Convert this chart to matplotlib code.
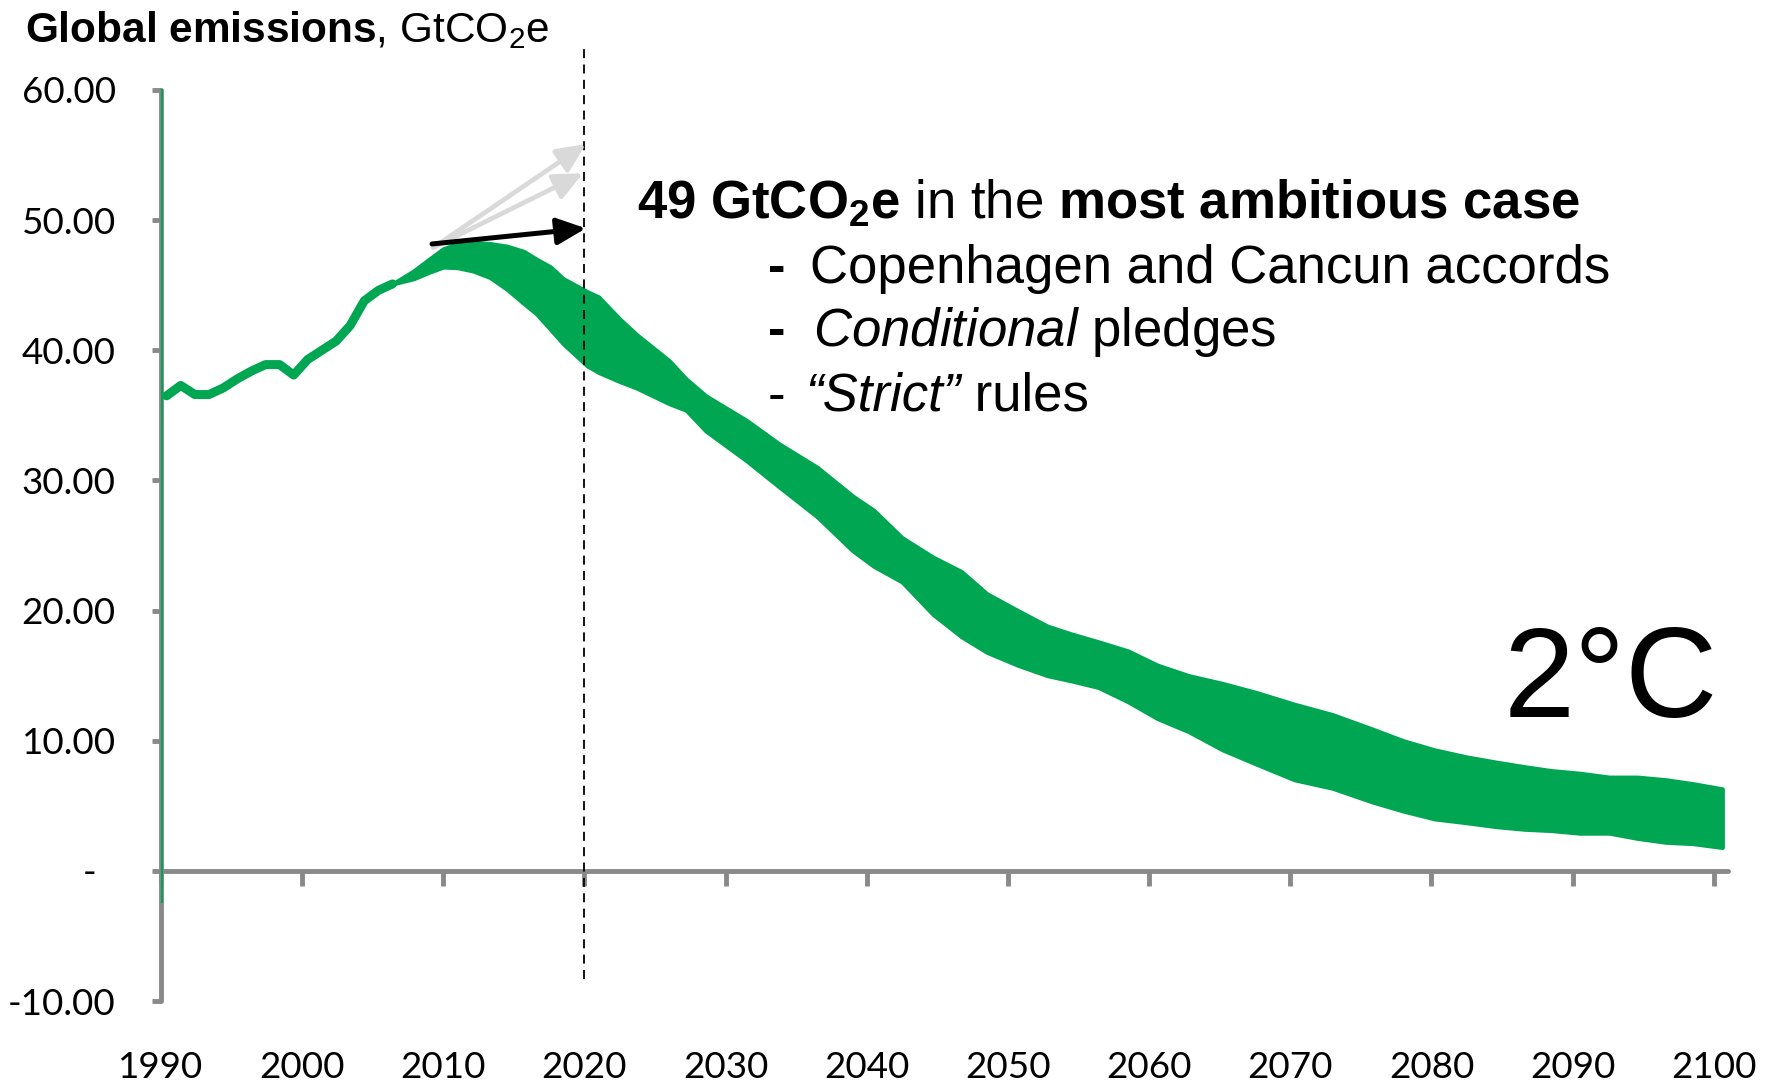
import matplotlib
matplotlib.use('Agg')
import matplotlib.pyplot as plt

# values (GtCO2e)
hist_years = list(range(1990, 2007))
hist_vals = [36.5, 37.3, 36.6, 36.6, 37.1, 37.8, 38.4, 38.9, 38.9, 38.1,
             39.3, 40.0, 40.7, 41.9, 43.8, 44.6, 45.1]

band_years = [2006.4, 2007.9, 2009.0, 2010.0, 2011.0, 2012.1, 2013.3, 2014.5,
              2015.7, 2016.6, 2017.6, 2018.5, 2020.2, 2021.0, 2022.5, 2023.7,
              2026.0, 2027.2, 2028.6, 2031.5, 2033.8, 2036.5, 2039.0, 2040.5,
              2042.5, 2044.7, 2046.7, 2048.5, 2050.7, 2052.8, 2054.5, 2056.4,
              2058.5, 2060.6, 2062.8, 2065.2, 2067.6, 2070.3, 2073.0, 2075.8,
              2078.0, 2080.2, 2082.5, 2084.6, 2086.6, 2088.5, 2090.5, 2092.6,
              2094.6, 2096.6, 2098.5, 2100.6]
band_high = [45.1, 46.1, 47.0, 47.8, 48.2, 48.3, 48.2, 48.0, 47.6, 47.0,
             46.4, 45.5, 44.5, 44.1, 42.4, 41.2, 39.2, 37.8, 36.5, 34.6,
             32.8, 31.0, 28.8, 27.7, 25.6, 24.1, 23.0, 21.3, 20.0, 18.8,
             18.2, 17.6, 16.9, 15.8, 15.0, 14.4, 13.7, 12.8, 12.0, 10.9,
             10.0, 9.3, 8.75, 8.35, 8.0, 7.7, 7.5, 7.2, 7.2, 7.0, 6.7, 6.3]
band_low = [45.1, 45.5, 46.0, 46.4, 46.35, 46.1, 45.6, 44.7, 43.6, 42.8,
            41.6, 40.5, 38.8, 38.3, 37.6, 37.1, 35.9, 35.4, 33.8, 31.5,
            29.5, 27.2, 24.6, 23.4, 22.2, 19.7, 18.0, 16.8, 15.8, 15.0,
            14.6, 14.1, 13.0, 11.7, 10.7, 9.3, 8.2, 7.0, 6.35, 5.3,
            4.6, 4.0, 3.7, 3.4, 3.2, 3.1, 2.9, 2.9, 2.5, 2.2, 2.1, 1.8]

# pledge arrows: start (year, value) -> end (year, value)
arrow_start = (2009.3, 47.9)
arrow_ends_grey = [(2020.1, 55.85), (2019.9, 53.6)]
arrow_start_black = (2009.2, 48.17)
arrow_end_black = (2020.1, 49.37)

y_ticks = [-10, 0, 10, 20, 30, 40, 50, 60]
y_labels = ['-10.00', '-  ', '10.00', '20.00', '30.00', '40.00', '50.00', '60.00']
x_ticks = list(range(1990, 2101, 10))

GREEN = '#00a651'
GREY = '#898989'
LIGHT = '#d9d9d9'

plt.rcParams['font.family'] = ['Lato', 'DejaVu Sans']
plt.rcParams['mathtext.fontset'] = 'custom'
plt.rcParams['mathtext.rm'] = 'Liberation Sans'
plt.rcParams['mathtext.bf'] = 'Liberation Sans:bold'
plt.rcParams['mathtext.it'] = 'Liberation Sans:italic'

fig = plt.figure(figsize=(17.67, 10.83), dpi=100)
ax = fig.add_axes([0.0911, 0.0757, 0.8868, 0.8412])
ax.set_xlim(1990, 2101)
ax.set_ylim(-10, 60)

for side in ['top', 'right']:
    ax.spines[side].set_visible(False)
for side in ['left', 'bottom']:
    ax.spines[side].set_color(GREY)
    ax.spines[side].set_linewidth(3.5)
    ax.spines[side].set_capstyle('round')
ax.spines['bottom'].set_position(('data', 0))

ax.set_xticks(x_ticks, [str(t) for t in x_ticks])
ax.set_yticks(y_ticks, y_labels)
ax.tick_params(axis='x', direction='out', length=10.5, width=3.5, color=GREY,
               pad=119, labelsize=26.5)
ax.tick_params(axis='y', direction='out', length=6.5, width=3.5, color=GREY,
               pad=26, labelsize=26.5)

# series
ax.plot([1990.1, 1990.1], [-2.4, 60], color=GREEN, lw=1.5, clip_on=False, zorder=4)
ax.plot([y + 0.4 for y in hist_years], hist_vals, color=GREEN, lw=6.5,
        solid_joinstyle='round', solid_capstyle='round', zorder=3)
ax.fill_between(band_years, band_low, band_high, facecolor=GREEN, edgecolor=GREEN,
                lw=3, joinstyle='round', zorder=3)

# 2020 marker
ax.plot([2020, 2020], [-8.3, 63.3], color='black', lw=1.3, ls=(0, (5, 3.5)),
        clip_on=False, zorder=5)

for end in arrow_ends_grey:
    ax.annotate('', xy=end, xytext=arrow_start,
                arrowprops=dict(arrowstyle='-|>,head_length=0.65,head_width=0.3',
                                color=LIGHT, lw=3.4, shrinkA=0, shrinkB=0,
                                mutation_scale=27), zorder=6)
ax.annotate('', xy=arrow_end_black, xytext=arrow_start_black,
            arrowprops=dict(arrowstyle='-|>,head_length=0.65,head_width=0.3',
                            color='black', lw=3.6, shrinkA=0, shrinkB=0,
                            mutation_scale=27), zorder=7)

# annotation text
txt = dict(family='Liberation Sans', fontsize=38, va='baseline', ha='left', color='black')
ax.text(2023.7, 50.15, r'$\mathbf{49\ GtCO_2e}$ in the $\mathbf{most\ ambitious\ case}$', **txt)
ax.text(2033.6, 45.2, '-', family='Liberation Sans', fontsize=38, fontweight='bold',
        va='baseline', ha='center')
ax.text(2035.97, 45.2, 'Copenhagen and Cancun accords', **txt)
ax.text(2033.6, 40.3, '-', family='Liberation Sans', fontsize=38, fontweight='bold',
        va='baseline', ha='center')
ax.text(2036.2, 40.3, r'$\mathit{Conditional}$ pledges', **txt)
ax.text(2033.6, 35.35, '-', family='Liberation Sans', fontsize=38,
        va='baseline', ha='center')
strict = ax.text(2035.6, 35.35, '“Strict”', style='italic', **txt)
ax.annotate(' rules', xy=(1, 0), xycoords=strict, va='bottom', ha='left',
            family='Liberation Sans', fontsize=38)

ax.text(2100.3, 11.8, '2°C', family='Liberation Sans', fontsize=92,
        ha='right', va='baseline')

fig.text(0.0141, 0.961, r'$\mathbf{Global\ emissions}$, GtCO$_2$e',
         family='Liberation Sans', fontsize=30.5, va='baseline', ha='left')

fig.savefig('out.png', dpi=100)
